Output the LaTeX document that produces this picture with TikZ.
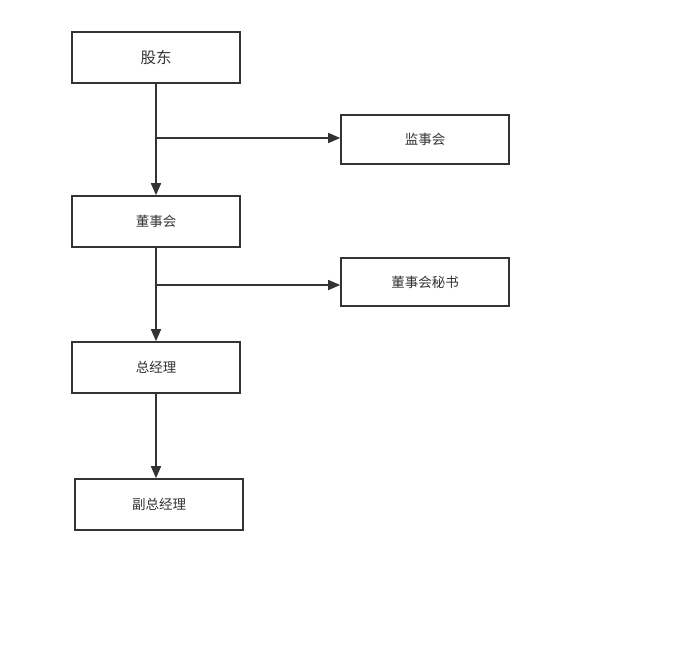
\documentclass[tikz,border=0pt]{standalone}
\usepackage{fontspec}
\setmainfont{Noto Sans CJK SC}
\usetikzlibrary{arrows.meta}
\definecolor{ink}{HTML}{333333}
\begin{document}
\begin{tikzpicture}[x=1pt,y=-1pt,
  box/.style={draw=ink,line width=1.6pt,minimum width=168pt,minimum height=51pt,inner sep=0pt,text=ink,font=\fontsize{13.5}{16}\selectfont},
  tip/.style={-{Triangle[length=12pt,width=10pt]}},
  conn/.style={draw=ink,line width=1.6pt,tip},
  plain/.style={draw=ink,line width=1.3pt,tip}]
\useasboundingbox (0,0) rectangle (700,647);
\node[box,font=\fontsize{15.5}{18}\selectfont] (gd) at (156,57.5) {股东};
\node[box,minimum height=49pt] (jsh) at (425,139.5) {监事会};
\node[box] (dsh) at (156,221.5) {董事会};
\node[box,minimum height=48pt] (ms) at (425,282) {董事会秘书};
\node[box] (zjl) at (156,367.5) {总经理};
\node[box] (fzjl) at (159,504.5) {副总经理};
\coordinate (b1) at (156,138);
\coordinate (b2) at (156,285);
\draw[conn] (gd.south) -- (dsh.north);
\draw[plain] (b1) -- (b1 -| jsh.west);
\draw[conn] (dsh.south) -- (zjl.north);
\draw[plain] (b2) -- (b2 -| ms.west);
\draw[conn] (zjl.south) -- (zjl.south |- fzjl.north);
\end{tikzpicture}
\end{document}
